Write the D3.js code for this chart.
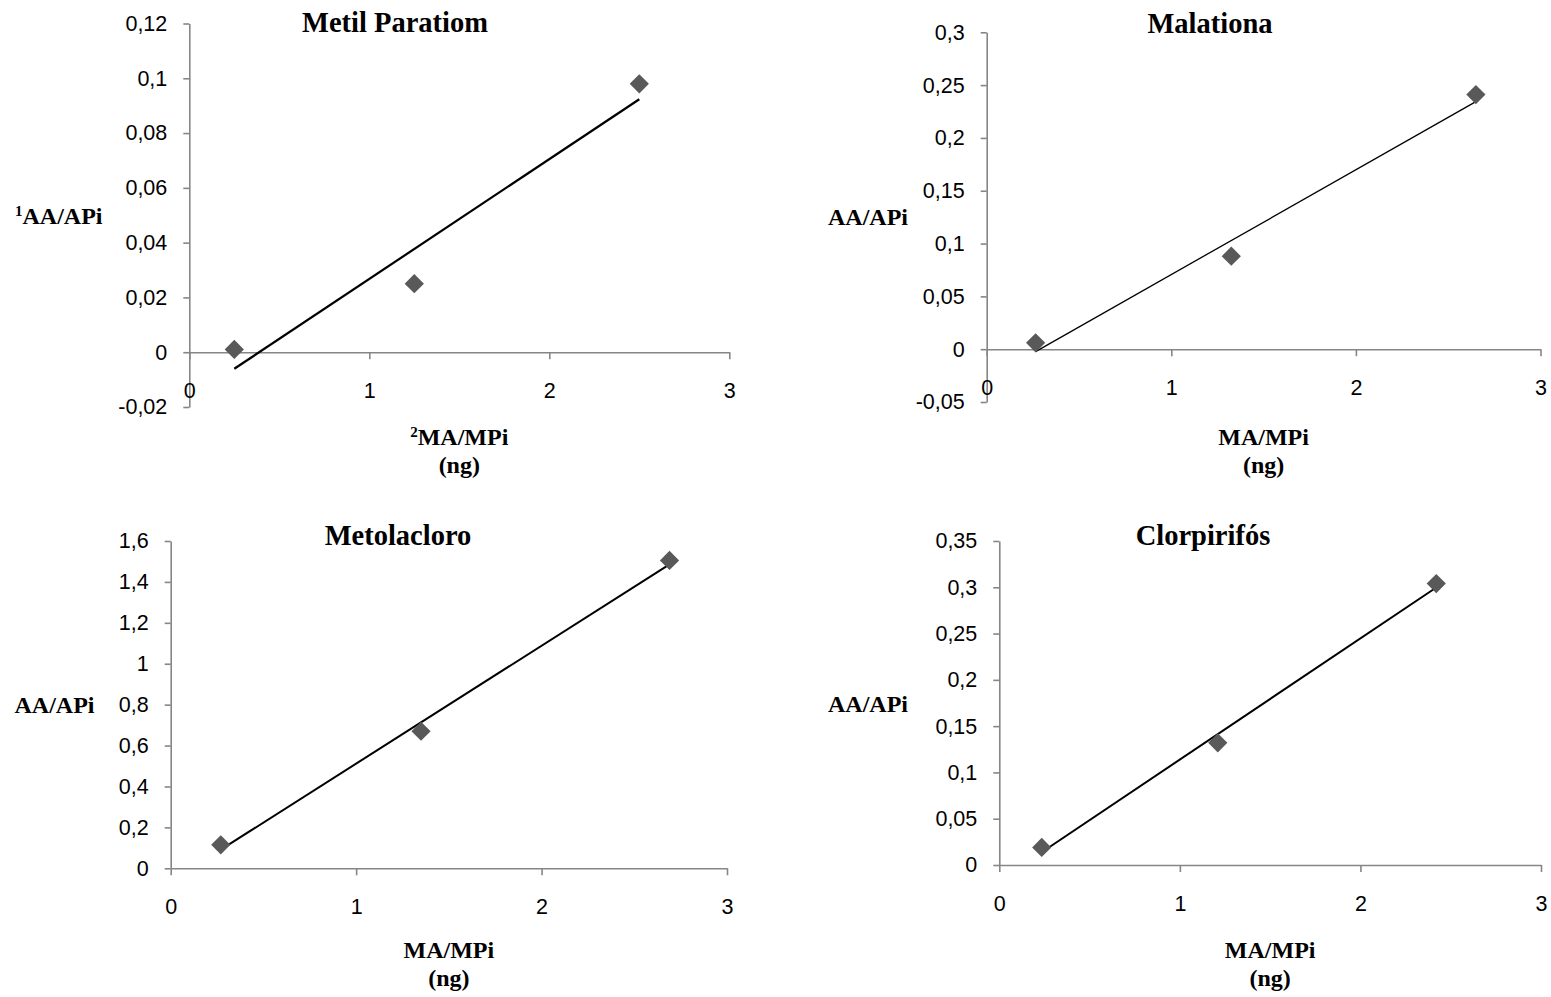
<!DOCTYPE html>
<html>
<head>
<meta charset="utf-8">
<script src="https://cdn.jsdelivr.net/npm/d3@7"></script>
<style>
  body { margin: 0; background: #fff; }
  svg { display: block; }
</style>
</head>
<body>
<svg width="1551" height="997"></svg>
<script>
// nomes dos compostos (títulos)
const compounds = ["Metil Paratiom", "Malationa", "Metolacloro", "Clorpirifós"];

// MA/MPi (ng) - eixo X
const xMetil = [0.25, 1.25, 2.5];
const xMalat = [0.265, 1.325, 2.65];
const xMetol = [0.27, 1.35, 2.69];
const xClor = [0.235, 1.21, 2.42];

// AA/APi - eixo Y
const yMetil = [0.001, 0.025, 0.098];
const yMalat = [0.006, 0.088, 0.241];
const yMetol = [0.115, 0.67, 1.505];
const yClor = [0.019, 0.132, 0.304];

// ticks
const xTicks = [0, 1, 2, 3];
const yTicksMetil = [-0.02, 0, 0.02, 0.04, 0.06, 0.08, 0.1, 0.12];
const yTicksMalat = [-0.05, 0, 0.05, 0.1, 0.15, 0.2, 0.25, 0.3];
const yTicksMetol = [0, 0.2, 0.4, 0.6, 0.8, 1, 1.2, 1.4, 1.6];
const yTicksClor = [0, 0.05, 0.1, 0.15, 0.2, 0.25, 0.3, 0.35];

// títulos dos eixos (sobrescrito, texto)
const yTitles = [["1", "AA/APi"], ["", "AA/APi"], ["", "AA/APi"], ["", "AA/APi"]];
const xTitles = [["2", "MA/MPi"], ["", "MA/MPi"], ["", "MA/MPi"], ["", "MA/MPi"]];
const unitLabel = "(ng)";

// posição de cada gráfico na página
const layout = [
    { xr: [189.3, 729.3], yr: [407, 23.5], tx: 395, ty: 32, ytx: 15, yty: 224, xty: 445, lw: 2.2 },
    { xr: [986.7, 1540.5], yr: [402, 32.3], tx: 1210, ty: 33, ytx: 828, yty: 225, xty: 445, lw: 1.3 },
    { xr: [170.7, 727], yr: [868.3, 541], tx: 398, ty: 545, ytx: 14.5, yty: 713, xty: 958, lw: 2 },
    { xr: [999.3, 1541], yr: [865, 541], tx: 1203, ty: 545, ytx: 828, yty: 712, xty: 958, lw: 2 }
];

const series = [
    { xs: xMetil, ys: yMetil, yTicks: yTicksMetil },
    { xs: xMalat, ys: yMalat, yTicks: yTicksMalat },
    { xs: xMetol, ys: yMetol, yTicks: yTicksMetol },
    { xs: xClor, ys: yClor, yTicks: yTicksClor }
];

const fmt = v => String(v).replace(".", ",");
const axisColor = "#868686";

// reta de regressão linear (linha de tendência)
function linReg(xs, ys) {
    const mx = d3.mean(xs), my = d3.mean(ys);
    let sxy = 0, sxx = 0;
    xs.forEach((x, i) => { sxy += (x - mx) * (ys[i] - my); sxx += (x - mx) ** 2; });
    const b = sxy / sxx;
    return { b: b, a: my - b * mx };
}

function drawChart(svg, i) {
    const s = series[i], L = layout[i];
    const g = svg.append("g");
    const yExt = d3.extent(s.yTicks);

    const scX = d3.scaleLinear().domain([0, 3]).range(L.xr);
    const scY = d3.scaleLinear().domain(yExt).range(L.yr);

    // eixo Y
    const gy = g.append("g")
        .attr("transform", `translate(${scX(0)},0)`)
        .call(d3.axisLeft(scY).tickValues(s.yTicks).tickFormat(fmt).tickSize(6).tickSizeOuter(0).tickPadding(16));
    // eixo X (cruza em y = 0)
    const gx = g.append("g")
        .attr("transform", `translate(0,${scY(0)})`)
        .call(d3.axisBottom(scX).tickValues(xTicks).tickFormat(fmt).tickSize(7).tickSizeOuter(0));
    gx.selectAll("text").attr("y", 38).attr("dy", "0.35em");

    [gx, gy].forEach(a => {
        a.select(".domain").attr("stroke", axisColor).attr("stroke-width", 1.6);
        a.selectAll(".tick line").attr("stroke", axisColor).attr("stroke-width", 1.6);
        a.selectAll("text")
            .attr("fill", "#000")
            .style("font-family", "'Liberation Sans', Arial, sans-serif")
            .style("font-size", "21.5px");
    });

    // linha de tendência
    const r = linReg(s.xs, s.ys);
    const x0 = d3.min(s.xs), x1 = d3.max(s.xs);
    g.append("line")
        .attr("x1", scX(x0)).attr("y1", scY(r.a + r.b * x0))
        .attr("x2", scX(x1)).attr("y2", scY(r.a + r.b * x1))
        .attr("stroke", "#000")
        .attr("stroke-width", L.lw);

    // pontos (losangos)
    const sym = d3.symbol(d3.symbolSquare, 185);
    g.selectAll(".pt")
        .data(s.xs.map((x, k) => [x, s.ys[k]]))
        .enter()
        .append("path")
        .attr("d", sym)
        .attr("transform", d => `translate(${scX(d[0])},${scY(d[1])}) rotate(45)`)
        .attr("fill", "#595959");

    const serif = "'Liberation Serif', 'Times New Roman', serif";

    // título
    g.append("text")
        .attr("x", L.tx).attr("y", L.ty)
        .attr("text-anchor", "middle")
        .style("font-family", serif).style("font-weight", "bold").style("font-size", "28.5px")
        .text(compounds[i]);

    // título eixo Y
    const yt = g.append("text")
        .attr("x", L.ytx).attr("y", L.yty)
        .style("font-family", serif).style("font-weight", "bold").style("font-size", "24px");
    if (yTitles[i][0]) yt.append("tspan").attr("dy", -8).style("font-size", "15px").text(yTitles[i][0]);
    yt.append("tspan").attr("dy", yTitles[i][0] ? 8 : 0).text(yTitles[i][1]);

    // título eixo X
    const xc = (L.xr[0] + L.xr[1]) / 2;
    const xt = g.append("text")
        .attr("x", xc).attr("y", L.xty)
        .attr("text-anchor", "middle")
        .style("font-family", serif).style("font-weight", "bold").style("font-size", "24px");
    if (xTitles[i][0]) xt.append("tspan").attr("dy", -8).style("font-size", "15px").text(xTitles[i][0]);
    xt.append("tspan").attr("dy", xTitles[i][0] ? 8 : 0).text(xTitles[i][1]);

    g.append("text")
        .attr("x", xc).attr("y", L.xty + 28)
        .attr("text-anchor", "middle")
        .style("font-family", serif).style("font-weight", "bold").style("font-size", "24px")
        .text(unitLabel);
}

const svg = d3.select("svg");
svg.append("rect").attr("width", 1551).attr("height", 997).attr("fill", "#fff");
for (let i = 0; i < compounds.length; i++) drawChart(svg, i);
</script>
</body>
</html>
